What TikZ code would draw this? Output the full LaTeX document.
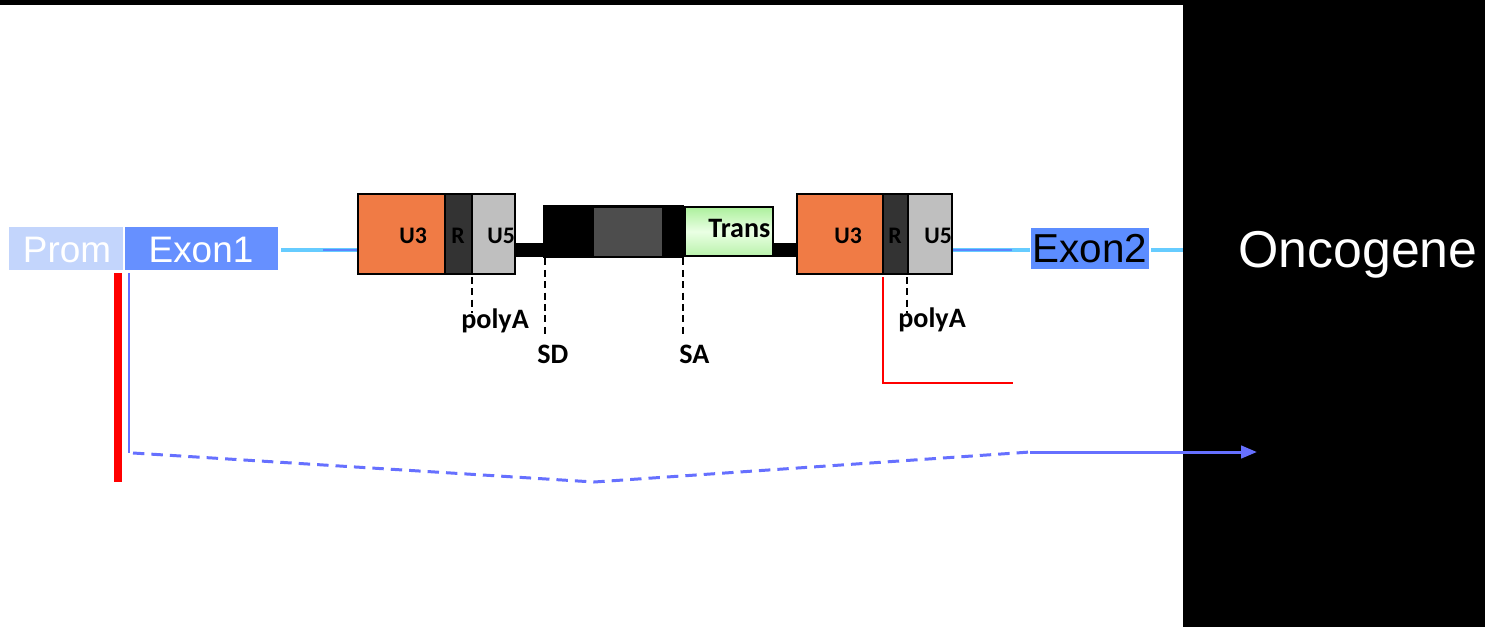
\documentclass[tikz,border=0pt]{standalone}
\usepackage{fontspec}
\setmainfont{Liberation Sans}
\newfontfamily\lblfont{Carlito}
\usetikzlibrary{arrows.meta,fit}
\definecolor{promblue}{HTML}{C3D5FC}
\definecolor{exonblue}{HTML}{6690FF}
\definecolor{exontwo}{HTML}{5C8DFF}
\definecolor{lineCyan}{HTML}{66CCFF}
\definecolor{lineBlue}{HTML}{5B86FF}
\definecolor{pathBlue}{HTML}{6670FF}
\definecolor{ltrOrange}{HTML}{F07B45}
\definecolor{ltrR}{HTML}{333333}
\definecolor{ltrU}{HTML}{BFBFBF}
\definecolor{midGray}{HTML}{4D4D4D}
\definecolor{transEdge}{HTML}{ACF09C}
\definecolor{transMid}{HTML}{EAFFE4}
\tikzset{
  segbox/.style={draw=black, line width=0.9pt, inner sep=0pt},
  exonbox/.style={inner sep=0pt},
  bigtext/.style={font=\fontsize{21}{24}\selectfont, anchor=base, inner sep=0pt},
  lbl/.style={font=\lblfont\bfseries\fontsize{13.5}{15}\selectfont, anchor=base west, inner sep=0pt},
  biglbl/.style={lbl, font=\lblfont\bfseries\fontsize{16}{18}\selectfont},
  marker/.style={draw=black, line width=1.1pt, dash pattern=on 4pt off 2.5pt},
  cyanline/.style={draw=lineCyan, line width=2.4pt},
  blueline/.style={draw=lineBlue, line width=1.3pt},
}
\begin{document}
\begin{tikzpicture}[x=0.02cm, y=-0.02cm]
\useasboundingbox (0,0) rectangle (1485,627);
% backdrop
\fill[white] (0,0) rectangle (1485,627);
\fill[black] (0,0) rectangle (1485,5);
\fill[black] (1183,0) rectangle (1485,627);

% host gene: promoter and first exon
\node[exonbox, fill=promblue, fit={(9,227) (123,270)}] (prom) {};
\node[exonbox, fill=exonblue, fit={(125,227) (278,270)}] (exon1) {};
\node[bigtext, text=white] (promtxt) at (67,262) {Prom};
\node[bigtext, text=white] (exon1txt) at (201,262) {Exon1};

% intron lines
\coordinate (c1a) at (281,250);
\coordinate (c1b) at (323,250);
\coordinate (c2b) at (1012,250);
\coordinate (c2c) at (1030,250);
\coordinate (c3a) at (1151,250);
\coordinate (c3b) at (1183,250);

% provirus backbone
\fill[black] (515,243) rectangle (797,257);
\node[inner sep=0pt, fill=black, fit={(543,205) (684,258)}] (core) {};
\node[inner sep=0pt, fill=midGray, draw=black, line width=0.5pt, fit={(593,207) (662,256)}] (grayseg) {};
\node[inner sep=0pt, draw=black, line width=0.6pt, top color=transEdge, bottom color=transEdge!85!white, middle color=transMid, fit={(685,207) (773,256)}] (trans) {};
\node[biglbl] (transtxt) at (708,237) {Trans};

% 5' LTR
\node[segbox, fill=ltrOrange, fit={(358,194) (445,274)}] (u3a) {};
\node[segbox, fill=ltrR, fit={(445,194) (472,274)}] (ra) {};
\node[segbox, fill=ltrU, fit={(472,194) (515,274)}] (u5a) {};
\node[lbl] (u3atxt) at (399,243) {U3};
\node[lbl] (ratxt) at (451,243) {R};
\node[lbl] (u5atxt) at (487,243) {U5};

% 3' LTR
\node[segbox, fill=ltrOrange, fit={(797,194) (883,274)}] (u3b) {};
\node[segbox, fill=ltrR, fit={(883,194) (908,274)}] (rb) {};
\node[segbox, fill=ltrU, fit={(908,194) (952,274)}] (u5b) {};
\node[lbl] (u3btxt) at (834,243) {U3};
\node[lbl] (rbtxt) at (888,243) {R};
\node[lbl] (u5btxt) at (924,243) {U5};

% second exon and gene name
\node[exonbox, fill=exontwo, fit={(1031,228) (1149,269)}] (exon2) {};
\node[bigtext, text=black, font=\fontsize{23}{26}\selectfont] (exon2txt) at (1090,262) {Exon2};
\node[bigtext, text=white, font=\fontsize{29.5}{32}\selectfont] (onco) at (1358,267) {Oncogene};

\draw[cyanline] (c1a) -- (u3a.west |- c1a);
\draw[blueline] (c1b) -- (u3a.west |- c1b);
\draw[cyanline] (u5b.east |- c2c) -- (c2c);
\draw[blueline] (u5b.east |- c2b) -- (c2b);
\draw[cyanline] (c3a) -- (c3b);

% polyA, splice donor and acceptor markers
\coordinate (pa1) at (472,313);
\coordinate (sd) at (545,335);
\coordinate (sa) at (683,335);
\coordinate (pa2) at (907,313);
\draw[marker] (pa1 |- u5a.south) ++(0,2) -- (pa1);
\draw[marker] (sd |- core.south) -- (sd);
\draw[marker] (sa |- core.south) -- (sa);
\draw[marker] (pa2 |- u5b.south) ++(0,2) -- (pa2);
\node[biglbl] (pa1txt) at (461,328) {polyA};
\node[biglbl] (sdtxt) at (537,363) {SD};
\node[biglbl] (satxt) at (679,363) {SA};
\node[biglbl] (pa2txt) at (898,327) {polyA};

% transcripts
\coordinate (redtop) at (118,273);
\coordinate (redbot) at (118,482);
\draw[red, line width=4pt] (redtop) -- (redbot);

\coordinate (ltrred) at (883,277);
\coordinate (redcorner) at (883,383);
\coordinate (redend) at (1013,383);
\draw[red, line width=1.2pt] (ltrred) -- (redcorner) -- (redend);

\coordinate (btop) at (129,273);
\coordinate (bcorner) at (129,453);
\coordinate (dstart) at (133,453);
\coordinate (dlow) at (594,482);
\coordinate (dend) at (1030,452);
\coordinate (tip) at (1257,452);
\draw[pathBlue, line width=1.5pt] (btop) -- (bcorner);
\draw[pathBlue, line width=1.7pt, dash pattern=on 6.5pt off 4pt] (dstart) -- (dlow) -- (dend);
\draw[pathBlue, line width=1.7pt, -{Triangle[length=9pt, width=7pt]}] (dend) -- (tip);
\end{tikzpicture}
\end{document}
